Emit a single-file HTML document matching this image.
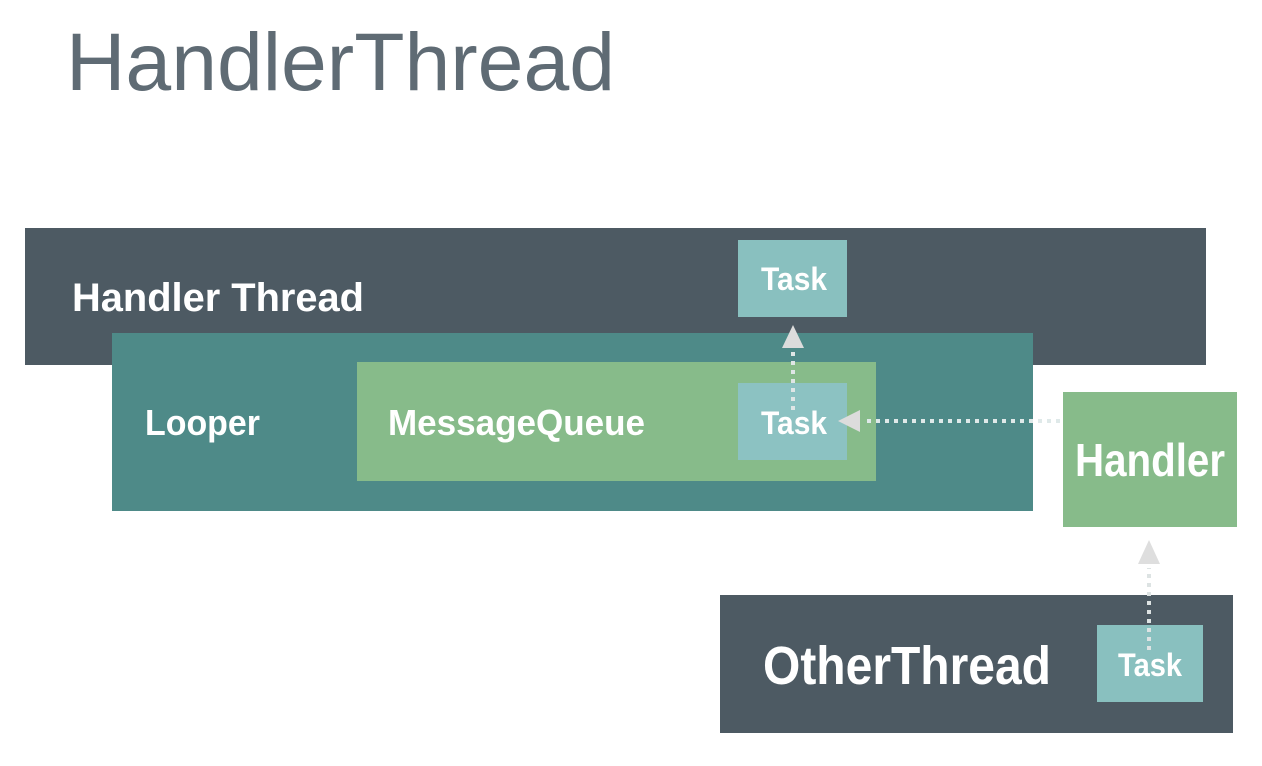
<!DOCTYPE html>
<html><head><meta charset="utf-8"><style>
html,body{margin:0;padding:0;background:#fff;width:1262px;height:766px;overflow:hidden}
text{font-family:"Liberation Sans Narrow","Liberation Sans",sans-serif;font-weight:bold;fill:#fff}
</style></head><body>
<svg width="1262" height="766" viewBox="0 0 1262 766" xmlns="http://www.w3.org/2000/svg">
<rect width="1262" height="766" fill="#fff"/>
<text x="66" y="90" style="font-family:'Liberation Sans',sans-serif;font-weight:normal;fill:#5f6b74;font-size:82px" textLength="549" lengthAdjust="spacingAndGlyphs">HandlerThread</text>
<rect x="25" y="228" width="1181" height="137" fill="#4d5a63"/>
<text x="72" y="311" font-size="40" textLength="292" lengthAdjust="spacingAndGlyphs">Handler Thread</text>
<rect x="738" y="240" width="109" height="77" fill="#89c0bf"/>
<text x="761" y="290" font-size="32" textLength="66" lengthAdjust="spacingAndGlyphs">Task</text>
<rect x="112" y="333" width="921" height="178" fill="#4e8a88"/>
<text x="145" y="435" font-size="36" textLength="115" lengthAdjust="spacingAndGlyphs">Looper</text>
<rect x="357" y="362" width="519" height="119" fill="#87bb8a"/>
<text x="388" y="435" font-size="36" textLength="257" lengthAdjust="spacingAndGlyphs">MessageQueue</text>
<rect x="738" y="383" width="109" height="77" fill="#8cc2c2"/>
<text x="761" y="434" font-size="32" textLength="66" lengthAdjust="spacingAndGlyphs">Task</text>
<!-- vertical arrow to top task -->
<line x1="793" y1="410" x2="793" y2="350" stroke="#dfe6e6" stroke-width="4" stroke-dasharray="4,5"/>
<polygon points="793,325 782,348 804,348" fill="#dcdcdc"/>
<!-- horizontal arrow -->
<line x1="1060" y1="421" x2="862" y2="421" stroke="#dfe9e9" stroke-width="4" stroke-dasharray="4,5"/>
<polygon points="838,421 860,410 860,432" fill="#dcdcdc"/>
<rect x="1063" y="392" width="174" height="135" fill="#87bb8a"/>
<text x="1075" y="476" font-size="46" textLength="150" lengthAdjust="spacingAndGlyphs">Handler</text>
<rect x="720" y="595" width="513" height="138" fill="#4d5a63"/>
<text x="763" y="684" font-size="54" textLength="288" lengthAdjust="spacingAndGlyphs">OtherThread</text>
<rect x="1097" y="625" width="106" height="77" fill="#89c0bf"/>
<text x="1118" y="676" font-size="32" textLength="64" lengthAdjust="spacingAndGlyphs">Task</text>
<line x1="1149" y1="650" x2="1149" y2="568" stroke="#dde3e3" stroke-width="4" stroke-dasharray="4,5"/>
<polygon points="1149,540 1138,564 1160,564" fill="#dedede"/>
</svg>
</body></html>
